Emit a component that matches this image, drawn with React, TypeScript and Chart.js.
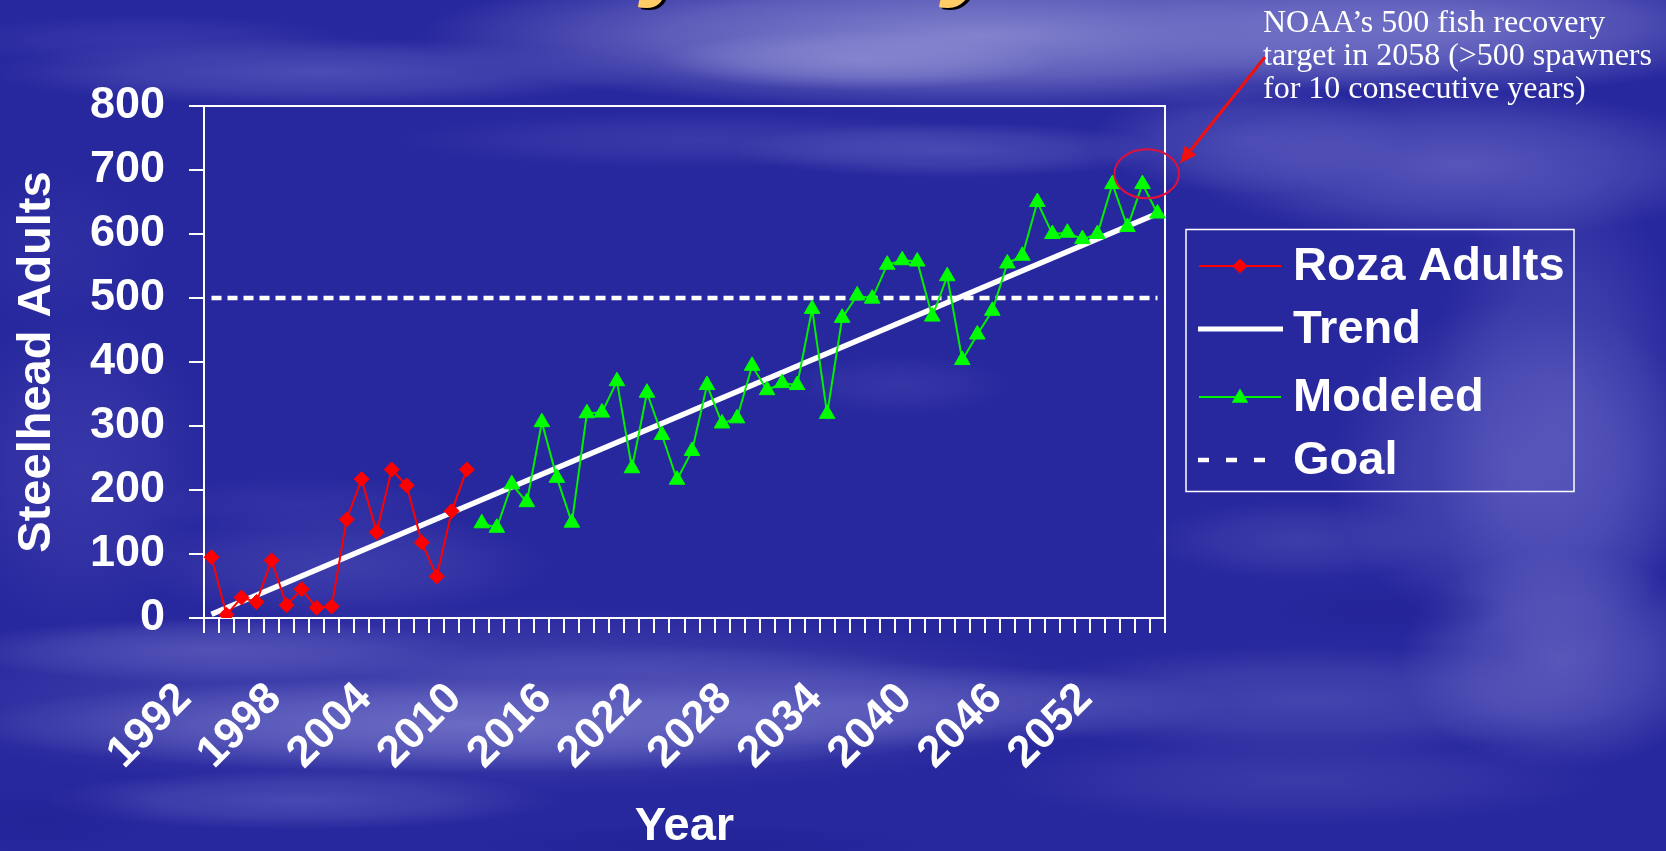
import { useEffect, useRef } from 'react';
import { Chart, registerables } from 'chart.js';

Chart.register(...registerables);

// ---- data ----
const years = [
  '1992', '1993', '1994', '1995', '1996', '1997', '1998', '1999', '2000', '2001',
  '2002', '2003', '2004', '2005', '2006', '2007', '2008', '2009', '2010', '2011',
  '2012', '2013', '2014', '2015', '2016', '2017', '2018', '2019', '2020', '2021',
  '2022', '2023', '2024', '2025', '2026', '2027', '2028', '2029', '2030', '2031',
  '2032', '2033', '2034', '2035', '2036', '2037', '2038', '2039', '2040', '2041',
  '2042', '2043', '2044', '2045', '2046', '2047', '2048', '2049', '2050', '2051',
  '2052', '2053', '2054', '2055',
];
const yearLabelEvery = 6;

// observed counts at Roza Dam, starting with the first year
const rozaAdults = [95, 5, 32, 25, 90, 20, 45, 16, 18, 154, 217, 134, 232, 207, 118, 65, 167, 232];

// modeled returns, ending with the last year
const modeled = [
  148, 141, 209, 181, 306, 219, 149, 320, 321, 370,
  234, 352, 286, 216, 261, 364, 304, 312, 394, 356,
  367, 364, 483, 319, 469, 504, 499, 552, 559, 557,
  471, 534, 403, 443, 480, 554, 566, 650, 600, 602,
  592, 600, 678, 611, 678, 632,
];

// linear trend: value at the first and at the last year
const trendStart = 6;
const trendEnd = 632;

const goalValue = 500;

const yMin = 0;
const yMax = 800;
const yStep = 100;

const legendLabels = ['Roza Adults', 'Trend', 'Modeled', 'Goal'];
const noteLines = ['NOAA\u2019s 500 fish recovery', 'target in 2058 (>500 spawners', 'for 10 consecutive years)'];
const headingWord = 'Trajectory';

// ---- styling ----
const SANS = '"Liberation Sans", Arial, Helvetica, sans-serif';
const SERIF = '"Liberation Serif", "Times New Roman", serif';
const RED = '#ff0000';
const GREEN = '#00f000';
const WHITE = '#ffffff';

const W = 1666;
const H = 851;

// soft cloud patches of the slide background: cx, cy, rx, ry, rgb, alpha
const clouds: [number, number, number, number, string, number][] = [
  [980, 35, 560, 75, '135,135,208', 0.95],
  [1450, 25, 320, 70, '125,125,205', 0.8],
  [860, 60, 200, 30, '150,150,215', 0.6],
  [320, 72, 330, 34, '88,88,188', 0.75],
  [150, 40, 200, 25, '70,70,180', 0.5],
  [1460, 165, 280, 75, '105,105,198', 0.7],
  [1250, 140, 160, 55, '95,95,192', 0.6],
  [700, 140, 300, 28, '72,72,178', 0.55],
  [950, 150, 220, 28, '95,95,192', 0.6],
  [80, 470, 130, 160, '68,68,178', 0.55],
  [60, 250, 90, 80, '55,55,170', 0.45],
  [340, 565, 210, 55, '78,78,182', 0.55],
  [300, 505, 160, 28, '70,70,176', 0.35],
  [900, 385, 110, 30, '70,70,178', 0.45],
  [500, 700, 620, 95, '92,92,188', 0.55],
  [480, 725, 520, 48, '118,118,202', 0.8],
  [870, 705, 360, 42, '108,108,198', 0.65],
  [210, 650, 260, 32, '98,98,192', 0.65],
  [640, 670, 300, 25, '90,90,188', 0.5],
  [1560, 420, 130, 260, '100,100,195', 0.5],
  [1520, 470, 190, 170, '105,105,198', 0.55],
  [1310, 700, 320, 55, '92,92,188', 0.55],
  [1300, 780, 300, 45, '80,80,182', 0.45],
  [1560, 660, 160, 110, '118,118,204', 0.6],
  [1300, 540, 150, 40, '85,85,185', 0.45],
  [300, 800, 260, 30, '100,100,195', 0.55],
  [700, 845, 260, 22, '34,34,150', 0.7],
  [1380, 610, 130, 30, '34,34,148', 0.5],
  [40, 820, 120, 40, '34,34,150', 0.6],
];

function paintClouds(ctx: CanvasRenderingContext2D) {
  ctx.save();
  ctx.fillStyle = 'rgb(40,40,158)';
  ctx.fillRect(0, 0, W, H);
  for (const [cx, cy, rx, ry, rgb, a] of clouds) {
    ctx.save();
    ctx.translate(cx, cy);
    ctx.scale(rx / ry, 1);
    const g = ctx.createRadialGradient(0, 0, 0, 0, 0, ry);
    g.addColorStop(0, `rgba(${rgb},${a})`);
    g.addColorStop(0.55, `rgba(${rgb},${a * 0.6})`);
    g.addColorStop(1, `rgba(${rgb},0)`);
    ctx.fillStyle = g;
    ctx.beginPath();
    ctx.arc(0, 0, ry, 0, Math.PI * 2);
    ctx.fill();
    ctx.restore();
  }
  ctx.restore();
}

function diamond(ctx: CanvasRenderingContext2D, x: number, y: number, r: number) {
  ctx.beginPath();
  ctx.moveTo(x, y - r);
  ctx.lineTo(x + r, y);
  ctx.lineTo(x, y + r);
  ctx.lineTo(x - r, y);
  ctx.closePath();
  ctx.fill();
}

function triangle(ctx: CanvasRenderingContext2D, x: number, y: number, r: number) {
  ctx.beginPath();
  ctx.moveTo(x, y - r);
  ctx.lineTo(x + r * 0.866, y + r / 2);
  ctx.lineTo(x - r * 0.866, y + r / 2);
  ctx.closePath();
  ctx.fill();
}

const backdropPlugin = {
  id: 'slideBackdrop',
  beforeDraw(chart: Chart) {
    paintClouds(chart.ctx);
  },
  beforeDatasetsDraw(chart: Chart) {
    // plot-area frame: top and right edges
    const { ctx, chartArea: a } = chart;
    ctx.save();
    ctx.strokeStyle = WHITE;
    ctx.lineWidth = 2;
    ctx.beginPath();
    ctx.moveTo(a.left, a.top);
    ctx.lineTo(a.right, a.top);
    ctx.lineTo(a.right, a.bottom);
    ctx.stroke();
    ctx.restore();
  },
};

const overlayPlugin = {
  id: 'slideOverlay',
  afterDraw(chart: Chart) {
    const ctx = chart.ctx;
    ctx.save();

    // slide heading (only its descenders reach into view)
    ctx.font = `italic bold 108px ${SANS}`;
    ctx.textBaseline = 'alphabetic';
    ctx.textAlign = 'left';
    const hx = 649.5 - ctx.measureText('Tra').width;
    ctx.fillStyle = '#000000';
    ctx.fillText(headingWord, hx + 3, -12.5);
    ctx.fillStyle = '#ffcc66';
    ctx.fillText(headingWord, hx, -14.5);

    // legend
    const lx = 1186;
    const ly = 229.5;
    ctx.strokeStyle = WHITE;
    ctx.lineWidth = 1.5;
    ctx.strokeRect(lx, ly, 388, 262);
    const rows = [266, 329, 397, 460];
    const mx0 = 1199;
    const mx1 = 1281;
    const mc = 1240;
    // Roza Adults
    ctx.strokeStyle = RED;
    ctx.lineWidth = 2;
    ctx.beginPath();
    ctx.moveTo(mx0, rows[0]);
    ctx.lineTo(mx1, rows[0]);
    ctx.stroke();
    ctx.fillStyle = RED;
    diamond(ctx, mc, rows[0], 7.5);
    // Trend
    ctx.strokeStyle = WHITE;
    ctx.lineWidth = 5;
    ctx.beginPath();
    ctx.moveTo(mx0 - 1, rows[1]);
    ctx.lineTo(mx1 + 2, rows[1]);
    ctx.stroke();
    // Modeled
    ctx.strokeStyle = GREEN;
    ctx.lineWidth = 2;
    ctx.beginPath();
    ctx.moveTo(mx0, rows[2]);
    ctx.lineTo(mx1, rows[2]);
    ctx.stroke();
    ctx.fillStyle = '#00ff00';
    triangle(ctx, mc, rows[2] + 1, 9.5);
    // Goal
    ctx.strokeStyle = WHITE;
    ctx.lineWidth = 4.5;
    ctx.setLineDash([11, 17]);
    ctx.beginPath();
    ctx.moveTo(mx0 - 1, rows[3]);
    ctx.lineTo(mx1, rows[3]);
    ctx.stroke();
    ctx.setLineDash([]);

    ctx.fillStyle = WHITE;
    ctx.font = `bold 47px ${SANS}`;
    ctx.textBaseline = 'middle';
    legendLabels.forEach((t, i) => ctx.fillText(t, 1293, rows[i] + 1));

    // note in the upper right
    ctx.font = `32px ${SERIF}`;
    ctx.textBaseline = 'alphabetic';
    ctx.fillStyle = WHITE;
    noteLines.forEach((t, i) => ctx.fillText(t, 1263, 31.5 + i * 33));

    // circle around the final peaks
    ctx.strokeStyle = '#e0103a';
    ctx.lineWidth = 2;
    ctx.beginPath();
    ctx.ellipse(1146.7, 173.8, 32.3, 24.5, 0, 0, Math.PI * 2);
    ctx.stroke();

    // arrow from the note to the circle
    const tx = 1265;
    const ty = 57;
    const px = 1180;
    const py = 163.5;
    const len = Math.hypot(px - tx, py - ty);
    const ux = (px - tx) / len;
    const uy = (py - ty) / len;
    const head = 17;
    const half = 7.5;
    ctx.strokeStyle = '#f01010';
    ctx.fillStyle = '#f01010';
    ctx.lineWidth = 3;
    ctx.beginPath();
    ctx.moveTo(tx, ty);
    ctx.lineTo(px - ux * head, py - uy * head);
    ctx.stroke();
    ctx.beginPath();
    ctx.moveTo(px, py);
    ctx.lineTo(px - ux * head - uy * half, py - uy * head + ux * half);
    ctx.lineTo(px - ux * head + uy * half, py - uy * head - ux * half);
    ctx.closePath();
    ctx.fill();

    ctx.restore();
  },
};

export default function App() {
  const canvasRef = useRef<HTMLCanvasElement | null>(null);

  useEffect(() => {
    document.body.style.margin = '0';
    const canvas = canvasRef.current;
    if (!canvas) return;

    const n = years.length;
    const rozaSeries = years.map((_, i) => (i < rozaAdults.length ? rozaAdults[i] : null));
    const firstModeled = n - modeled.length;
    const modeledSeries = years.map((_, i) => (i >= firstModeled ? modeled[i - firstModeled] : null));
    const trendSeries = years.map((_, i) => (i === 0 ? trendStart : i === n - 1 ? trendEnd : null));
    const goalSeries = years.map((_, i) => (i === 0 || i === n - 1 ? goalValue : null));

    const yTickFont = { family: SANS, size: 45, weight: 'bold' as const };
    const xTickFont = { family: SANS, size: 44, weight: 'bold' as const };
    const titleFont = { family: SANS, size: 47, weight: 'bold' as const, lineHeight: 1 };

    const chart = new Chart(canvas, {
      type: 'line',
      data: {
        labels: years,
        datasets: [
          {
            label: legendLabels[0],
            data: rozaSeries,
            borderColor: RED,
            backgroundColor: RED,
            borderWidth: 2,
            pointStyle: 'rectRot',
            pointRadius: 7.5,
            pointBorderWidth: 1,
            pointBorderColor: RED,
            pointBackgroundColor: RED,
            tension: 0,
            spanGaps: false,
          },
          {
            label: legendLabels[2],
            data: modeledSeries,
            borderColor: GREEN,
            backgroundColor: '#00ff00',
            borderWidth: 2,
            pointStyle: 'triangle',
            pointRadius: 9,
            pointBorderWidth: 1,
            pointBorderColor: '#00ff00',
            pointBackgroundColor: '#00ff00',
            tension: 0,
            spanGaps: false,
          },
          {
            label: legendLabels[1],
            data: trendSeries,
            borderColor: WHITE,
            borderWidth: 5.5,
            pointRadius: 0,
            spanGaps: true,
            tension: 0,
          },
          {
            label: legendLabels[3],
            data: goalSeries,
            borderColor: WHITE,
            borderWidth: 4.5,
            borderDash: [10, 6],
            pointRadius: 0,
            spanGaps: true,
            tension: 0,
          },
        ],
      },
      options: {
        responsive: false,
        animation: false,
        events: [],
        layout: { padding: { left: 0, top: 106, right: 501, bottom: 0 } },
        plugins: {
          legend: { display: false },
          title: { display: false },
          tooltip: { enabled: false },
        },
        scales: {
          x: {
            type: 'category',
            offset: true,
            afterFit: (s: any) => {
              s.height = 233;
            },
            border: { display: true, color: WHITE, width: 2 },
            grid: {
              display: true,
              offset: true,
              drawOnChartArea: false,
              drawTicks: true,
              tickLength: 15,
              color: WHITE,
              lineWidth: 2,
            },
            ticks: {
              autoSkip: false,
              minRotation: 45,
              maxRotation: 45,
              color: WHITE,
              font: xTickFont,
              padding: 40,
              labelOffset: -27,
              callback: (_v: any, i: number) => (i % yearLabelEvery === 0 ? years[i] : ''),
            },
            title: {
              display: true,
              text: 'Year',
              color: WHITE,
              font: titleFont,
              padding: { top: 0, bottom: 0 },
            },
          },
          y: {
            min: yMin,
            max: yMax,
            afterFit: (s: any) => {
              s.width = 204;
            },
            border: { display: true, color: WHITE, width: 2 },
            grid: {
              display: true,
              drawOnChartArea: false,
              drawTicks: true,
              tickLength: 15,
              color: WHITE,
              lineWidth: 2,
            },
            ticks: {
              stepSize: yStep,
              color: WHITE,
              font: yTickFont,
              padding: 24,
            },
            title: {
              display: true,
              text: 'Steelhead Adults',
              color: WHITE,
              font: titleFont,
              padding: { top: 13.5, bottom: 0 },
            },
          },
        },
      },
      plugins: [backdropPlugin, overlayPlugin],
    });

    return () => chart.destroy();
  }, []);

  return <canvas ref={canvasRef} width={W} height={H} style={{ display: 'block', width: W, height: H }} />;
}
